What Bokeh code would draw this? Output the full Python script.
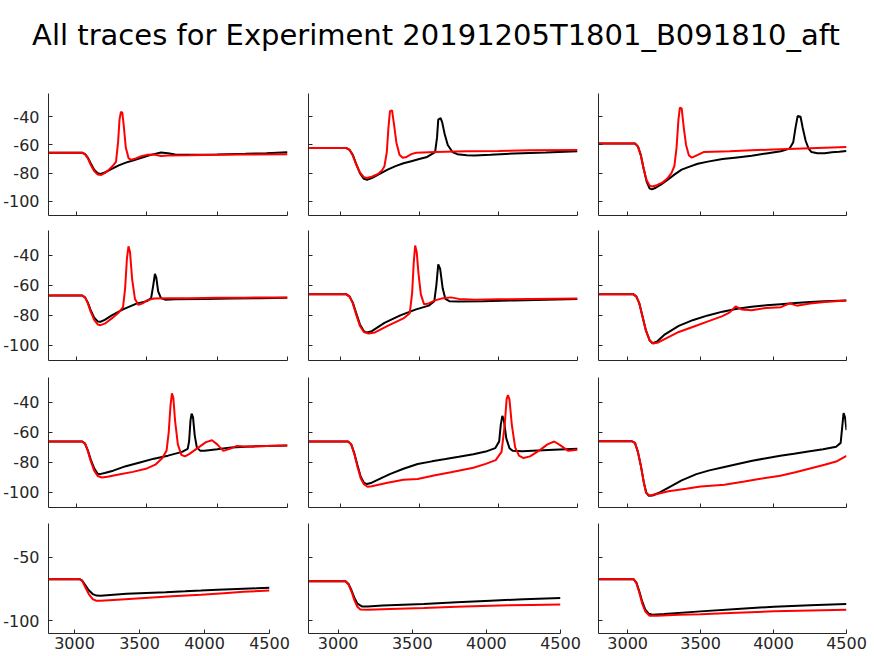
from bokeh.plotting import figure
from bokeh.layouts import column, row
from bokeh.models import Range1d, FixedTicker, Label
from bokeh.embed import file_html
from bokeh.resources import INLINE

TITLE = "All traces for Experiment 20191205T1801_B091810_aft"
X_TICKS = [3000, 3500, 4000, 4500]
Y_TICKS_UPPER = [-100, -80, -60, -40]
Y_TICKS_LOWER = [-100, -50]
X_LIM = (2800, 4500)
Y_LIM = (-110, -23.5)

# ---------------- row 1 ----------------
r1c1_black_t = [2800, 3040, 3060, 3080, 3100, 3125, 3150, 3170, 3200, 3250, 3300, 3350, 3400, 3450, 3500, 3550, 3600, 3650, 3700, 3800, 4000, 4200, 4350, 4500]
r1c1_black_v = [-65.5, -65.5, -66.5, -69, -73, -77.5, -80, -80.5, -79.5, -77, -74.5, -72.5, -71, -69.5, -67.8, -66.5, -65.3, -65.8, -66.8, -67, -66.8, -66.3, -65.8, -65.2]
r1c1_red_t = [2800, 3040, 3060, 3080, 3100, 3125, 3150, 3175, 3200, 3230, 3260, 3280, 3295, 3305, 3315, 3325, 3335, 3350, 3370, 3390, 3420, 3460, 3500, 3550, 3600, 3650, 3800, 4000, 4200, 4500]
r1c1_red_v = [-65.5, -65.5, -66.5, -69.5, -74, -78.5, -81, -81.2, -80, -77.5, -74.5, -72, -58, -42, -36.5, -37, -46, -62, -69.5, -70.5, -69.5, -68, -67, -66.8, -67.8, -67.5, -67.3, -67, -66.8, -66.5]

r1c2_black_t = [2800, 3040, 3060, 3080, 3100, 3125, 3150, 3170, 3200, 3250, 3300, 3350, 3400, 3450, 3500, 3550, 3600, 3612, 3620, 3635, 3645, 3660, 3680, 3710, 3740, 3800, 3850, 3950, 4100, 4300, 4500]
r1c2_black_v = [-62.2, -62.2, -63.5, -67, -73, -80, -84, -84.6, -83.5, -80.5, -77.5, -75, -73, -71.5, -70, -68.5, -65, -55, -42, -41, -44, -52, -60, -65, -66.5, -67.2, -67.5, -67, -66, -65.3, -64.5]
r1c2_red_t = [2800, 3040, 3060, 3080, 3100, 3125, 3150, 3170, 3200, 3240, 3265, 3280, 3295, 3305, 3315, 3328, 3340, 3355, 3375, 3395, 3420, 3450, 3480, 3600, 3800, 4000, 4200, 4500]
r1c2_red_v = [-62.2, -62.2, -63.5, -67.5, -73.5, -79.5, -82.8, -83.4, -82.5, -80.5, -78, -75, -65, -48, -36, -35.5, -45, -58, -67, -69, -68.5, -66.5, -65.5, -65, -64.5, -64.2, -63.8, -63.6]

r1c3_black_t = [2800, 3050, 3070, 3090, 3110, 3130, 3150, 3165, 3190, 3230, 3270, 3320, 3370, 3420, 3480, 3550, 3650, 3750, 3850, 3950, 4050, 4110, 4135, 4150, 4165, 4185, 4200, 4220, 4240, 4260, 4300, 4350, 4400, 4450, 4500]
r1c3_black_v = [-59, -59, -61, -67, -77, -86, -90.8, -91.5, -90.5, -88, -85, -81, -77.5, -75.5, -73.3, -71.8, -70, -68.8, -67.6, -66, -64.5, -62.5, -58, -48, -39.5, -40, -48, -57, -62.5, -65, -65.8, -65.8, -65.2, -64.8, -64.3]
r1c3_red_t = [2800, 3050, 3070, 3090, 3110, 3130, 3150, 3170, 3200, 3240, 3270, 3300, 3320, 3335, 3348, 3358, 3370, 3385, 3400, 3420, 3440, 3470, 3520, 3700, 3850, 4000, 4200, 4350, 4500]
r1c3_red_v = [-59, -59, -61, -67.5, -77, -85, -88.8, -89.4, -88.5, -86.5, -84, -80, -75, -62, -42, -33.5, -34, -48, -60, -67.5, -69, -67.5, -65, -64.5, -63.8, -63.2, -62.5, -62, -61.5]

# ---------------- row 2 ----------------
r2c1_black_t = [2800, 3040, 3060, 3080, 3100, 3125, 3150, 3170, 3200, 3250, 3330, 3430, 3500, 3530, 3545, 3557, 3567, 3580, 3600, 3630, 3700, 3900, 4100, 4300, 4500]
r2c1_black_v = [-66.8, -66.8, -68, -71.5, -76.5, -81.5, -84, -84.2, -83, -80, -76, -72, -70.5, -68.5, -60, -52.3, -55, -64, -68.5, -69.5, -69.3, -69, -68.8, -68.5, -68.3]
r2c1_red_t = [2800, 3040, 3060, 3080, 3100, 3125, 3150, 3170, 3200, 3250, 3300, 3330, 3345, 3358, 3369, 3380, 3395, 3415, 3440, 3470, 3500, 3550, 3650, 3800, 4000, 4200, 4500]
r2c1_red_v = [-66.8, -66.8, -68, -72, -77.5, -83, -86, -86.5, -85.5, -82, -78, -74.5, -62, -42, -34, -38, -56, -69, -73, -72, -70, -68.8, -68.5, -68.5, -68.3, -68.2, -68]

r2c2_black_t = [2800, 3040, 3060, 3080, 3100, 3125, 3150, 3170, 3200, 3280, 3380, 3480, 3560, 3595, 3608, 3620, 3632, 3648, 3665, 3690, 3750, 3900, 4100, 4300, 4500]
r2c2_black_v = [-66, -66, -67.5, -71.5, -78, -86, -90.5, -91.4, -90.5, -85, -80, -76, -73.5, -70.5, -60, -46, -49, -62, -69, -70.5, -70.8, -70.5, -70, -69.5, -69]
r2c2_red_t = [2800, 3040, 3060, 3080, 3100, 3125, 3150, 3180, 3220, 3300, 3400, 3440, 3455, 3465, 3474, 3484, 3495, 3510, 3530, 3560, 3600, 3650, 3700, 3750, 3850, 4000, 4200, 4500]
r2c2_red_v = [-66, -66, -67.5, -72, -79, -87, -91, -92, -91.3, -87, -82, -78.5, -65, -45, -33.5, -38, -52, -66, -72.5, -72, -70, -68.5, -68, -69, -69.5, -69.3, -69, -68.7]

r2c3_black_t = [2800, 3040, 3060, 3080, 3100, 3125, 3150, 3170, 3200, 3250, 3350, 3450, 3550, 3650, 3750, 3850, 3950, 4050, 4150, 4250, 4350, 4500]
r2c3_black_v = [-66, -66, -67.5, -72, -80, -90, -96.5, -98.5, -97.5, -93, -87, -83, -80, -77.5, -75.5, -74.3, -73.3, -72.5, -71.7, -71, -70.5, -70]
r2c3_red_t = [2800, 3040, 3060, 3080, 3100, 3125, 3150, 3175, 3210, 3250, 3350, 3450, 3550, 3650, 3700, 3740, 3780, 3850, 3950, 4050, 4110, 4160, 4250, 4350, 4500]
r2c3_red_v = [-66, -66, -67.5, -72, -80, -90, -96.5, -98.7, -98, -96, -91, -87.5, -84, -80.5, -78, -74, -76, -76.5, -75, -74.5, -72, -73.5, -72, -71, -70]

# ---------------- row 3 ----------------
r3c1_black_t = [2800, 3040, 3060, 3080, 3100, 3125, 3150, 3165, 3200, 3260, 3350, 3450, 3550, 3650, 3750, 3790, 3800, 3810, 3818, 3828, 3840, 3855, 3880, 3910, 4000, 4100, 4200, 4350, 4500]
r3c1_black_v = [-66.1, -66.1, -67.5, -72, -78, -84, -87.5, -87.8, -87, -85.5, -82.5, -80, -77.5, -75.5, -73, -71, -66, -52, -47.5, -50, -62, -70, -72.3, -72.3, -71.3, -70, -69.5, -69, -68.8]
r3c1_red_t = [2800, 3040, 3060, 3080, 3100, 3125, 3150, 3180, 3220, 3300, 3400, 3500, 3560, 3610, 3640, 3655, 3668, 3678, 3688, 3700, 3720, 3745, 3770, 3800, 3860, 3920, 3963, 4000, 4043, 4090, 4140, 4180, 4250, 4350, 4500]
r3c1_red_v = [-66.1, -66.1, -67.5, -72.5, -79, -85.5, -89, -90, -89.5, -88, -86.3, -84, -81.5, -77, -72, -60, -42, -34, -37, -52, -68, -75, -76, -74.5, -70.5, -66.5, -65.3, -68, -72.3, -71, -69, -69.3, -69.5, -69, -68.8]

r3c2_black_t = [2800, 3050, 3070, 3090, 3110, 3130, 3150, 3170, 3200, 3250, 3314, 3400, 3490, 3580, 3666, 3750, 3842, 3920, 3980, 4005, 4015, 4025, 4035, 4050, 4070, 4090, 4150, 4250, 4350, 4500]
r3c2_black_v = [-66.1, -66.1, -68, -74, -82, -89.5, -93.5, -94.4, -93.5, -91, -87.8, -84.2, -81.1, -79.3, -77.8, -76.3, -74.5, -72.8, -70.5, -66, -55, -49, -52, -64, -70.5, -72.3, -72.5, -72, -71.5, -70.9]
r3c2_red_t = [2800, 3050, 3070, 3090, 3110, 3130, 3150, 3173, 3200, 3300, 3400, 3490, 3600, 3700, 3842, 3920, 3983, 4020, 4040, 4052, 4060, 4070, 4085, 4106, 4130, 4159, 4200, 4260, 4310, 4353, 4390, 4441, 4500]
r3c2_red_v = [-66.1, -66.1, -68, -74.5, -83, -90.5, -94.5, -96.2, -95.8, -93.5, -91.5, -91, -88.5, -86.5, -83.5, -81, -78.5, -73, -55, -38, -35.2, -38, -55, -70, -75.5, -77.1, -76, -72, -68, -66.1, -68.5, -72.3, -71.6]

r3c3_black_t = [2800, 3030, 3050, 3070, 3090, 3110, 3127, 3145, 3170, 3220, 3280, 3370, 3471, 3560, 3663, 3754, 3854, 3950, 4046, 4140, 4237, 4340, 4429, 4460, 4472, 4480, 4490, 4500]
r3c3_black_v = [-66, -66, -67, -73, -82, -93, -100, -102.2, -102, -100, -96.7, -92, -87.8, -85.3, -83, -81, -78.9, -77.2, -75.6, -74.2, -72.7, -71.2, -69.6, -67, -55, -47.2, -50, -58.5]
r3c3_red_t = [2800, 3030, 3050, 3070, 3090, 3110, 3127, 3150, 3200, 3280, 3400, 3500, 3663, 3800, 3900, 4046, 4150, 4250, 4350, 4429, 4500]
r3c3_red_v = [-66, -66, -67, -73, -82, -93, -100.5, -102, -101, -99.2, -97.5, -96, -94.9, -92.7, -91, -88.9, -86.5, -84, -81.5, -79.4, -75.6]

# ---------------- row 4 ----------------
r4c1_black_t = [2800, 3040, 3060, 3080, 3110, 3140, 3170, 3200, 3300, 3400, 3550, 3700, 3850, 3973, 4100, 4250, 4400, 4500]
r4c1_black_v = [-67.3, -67.3, -68.5, -71.5, -76, -79, -80.2, -80.3, -79.5, -78.8, -78.1, -77.5, -76.8, -76.2, -75.5, -75, -74.5, -74.1]
r4c1_red_t = [2800, 3040, 3060, 3080, 3110, 3140, 3165, 3200, 3300, 3450, 3600, 3750, 3973, 4150, 4300, 4500]
r4c1_red_v = [-67.3, -67.3, -68.8, -73, -79, -83, -84.2, -84.3, -83.6, -82.6, -81.6, -80.7, -79.6, -78.3, -77.2, -76.2]

r4c2_black_t = [2800, 3050, 3070, 3090, 3110, 3130, 3160, 3200, 3300, 3577, 3800, 4027, 4250, 4500]
r4c2_black_v = [-68.9, -68.9, -71, -76, -82, -86.5, -88.7, -88.8, -88, -86.8, -85.5, -84.2, -83, -82]
r4c2_red_t = [2800, 3050, 3070, 3090, 3110, 3130, 3150, 3200, 3350, 3577, 3800, 4027, 4300, 4500]
r4c2_red_v = [-68.9, -68.9, -71.5, -77, -84, -89, -91.2, -91.3, -90.7, -89.9, -89, -88.1, -87.5, -87.1]

r4c3_black_t = [2800, 3040, 3060, 3080, 3100, 3120, 3145, 3170, 3250, 3499, 3750, 4003, 4250, 4500]
r4c3_black_v = [-67.3, -67.3, -70, -77, -85, -91, -94.5, -95.2, -94.7, -92.6, -90.7, -88.9, -87.8, -86.8]
r4c3_red_t = [2800, 3040, 3060, 3080, 3100, 3120, 3150, 3200, 3350, 3499, 3750, 4003, 4250, 4500]
r4c3_red_v = [-67.3, -67.3, -70.5, -78, -86.5, -92.5, -96, -96, -95.2, -94.8, -93.6, -92.6, -91.9, -91.3]

panels = [
    [(r1c1_black_t, r1c1_black_v, r1c1_red_t, r1c1_red_v),
     (r1c2_black_t, r1c2_black_v, r1c2_red_t, r1c2_red_v),
     (r1c3_black_t, r1c3_black_v, r1c3_red_t, r1c3_red_v)],
    [(r2c1_black_t, r2c1_black_v, r2c1_red_t, r2c1_red_v),
     (r2c2_black_t, r2c2_black_v, r2c2_red_t, r2c2_red_v),
     (r2c3_black_t, r2c3_black_v, r2c3_red_t, r2c3_red_v)],
    [(r3c1_black_t, r3c1_black_v, r3c1_red_t, r3c1_red_v),
     (r3c2_black_t, r3c2_black_v, r3c2_red_t, r3c2_red_v),
     (r3c3_black_t, r3c3_black_v, r3c3_red_t, r3c3_red_v)],
    [(r4c1_black_t, r4c1_black_v, r4c1_red_t, r4c1_red_v),
     (r4c2_black_t, r4c2_black_v, r4c2_red_t, r4c2_red_v),
     (r4c3_black_t, r4c3_black_v, r4c3_red_t, r4c3_red_v)],
]

# layout geometry (outer sizes and borders in px)
TITLE_H = 93
row_heights = [137, 147, 146, 133]
row_bottom = [15, 17, 16, 23]
col_widths = [297, 290, 287]
col_left = [46, 11, 11]
col_right_upper = [10, 10, 28]
col_right_lower = [28, 27, 28]

AX = "#262626"
FONT = "DejaVu Sans"


def make_panel(r, c, data):
    bt, bv, rt, rv = data
    last = (r == 3)
    yt = Y_TICKS_LOWER if last else Y_TICKS_UPPER
    fig = figure(width=col_widths[c], height=row_heights[r],
                 x_range=Range1d(*X_LIM), y_range=Range1d(*Y_LIM),
                 output_backend="svg", toolbar_location=None, title=None,
                 min_border_left=col_left[c],
                 min_border_right=(col_right_lower if last else col_right_upper)[c],
                 min_border_top=0, min_border_bottom=row_bottom[r])
    fig.outline_line_color = None
    fig.grid.visible = False
    fig.background_fill_color = "white"
    fig.border_fill_color = "white"
    fig.line(bt, bv, line_color="#000000", line_width=2)
    fig.line(rt, rv, line_color="#ff0000", line_width=2)
    fig.xaxis.ticker = FixedTicker(ticks=X_TICKS)
    fig.yaxis.ticker = FixedTicker(ticks=yt)
    fig.yaxis.major_label_overrides = {t: str(t) for t in yt}
    for ax in (fig.xaxis[0], fig.yaxis[0]):
        ax.axis_line_color = AX
        ax.axis_line_width = 1
        ax.major_tick_line_color = AX
        ax.major_tick_in = 4
        ax.major_tick_out = 0
        ax.minor_tick_in = 0
        ax.minor_tick_out = 0
        ax.major_label_text_color = AX
        ax.major_label_text_font = FONT
        ax.major_label_text_font_size = "16px"
    fig.yaxis.major_label_standoff = 9
    fig.xaxis.major_label_standoff = 3
    if not last:
        fig.xaxis.major_label_text_color = None
        fig.xaxis.major_label_standoff = 0
    if c != 0:
        fig.yaxis.major_label_text_color = None
        fig.yaxis.major_label_standoff = 0
    return fig


title_fig = figure(width=874, height=TITLE_H, x_range=Range1d(0, 874), y_range=Range1d(0, TITLE_H),
                   x_axis_type=None, y_axis_type=None, output_backend="svg",
                   toolbar_location=None, min_border=0, title=None)
title_fig.outline_line_color = None
title_fig.grid.visible = False
title_fig.add_layout(Label(x=435.5, y=TITLE_H - 34.0, text=TITLE, text_align="center",
                           text_baseline="alphabetic", text_font=FONT,
                           text_font_size="29px", text_color="#000000"))

rows = [title_fig]
for r in range(4):
    rows.append(row([make_panel(r, c, panels[r][c]) for c in range(3)], spacing=0))

p = column(rows, spacing=0)
open("out.html", "w").write(file_html(p, INLINE))
